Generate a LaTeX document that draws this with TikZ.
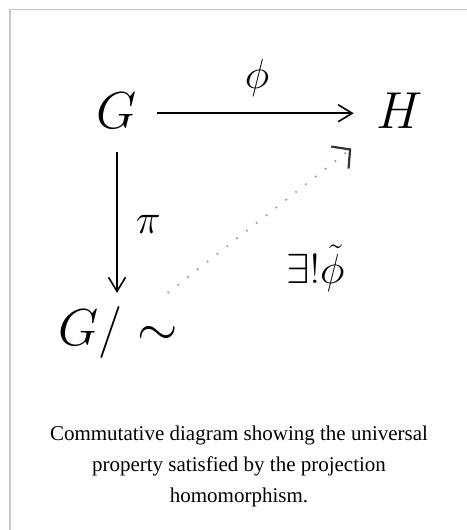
\RequirePackage{fix-cm}
\documentclass[tikz,border=0pt]{standalone}
\usepackage{amsmath,amssymb}
\usepackage{fontspec}
\newfontfamily\capfont{Liberation Serif}
\usetikzlibrary{arrows.meta,positioning,calc}

\begin{document}
\begin{tikzpicture}[x=1pt, y=-1pt,
    obj/.style={inner sep=0pt, anchor=base, font=\fontsize{52}{60}\selectfont},
    lbl/.style={inner sep=0pt, text=black, font=\fontsize{42}{50}\selectfont},
    arr/.style={-{Straight Barb[length=14pt, width=17pt, line width=1.6pt]}, line width=1.6pt},
    dots/.style={line width=2.6pt, black!35, dash pattern=on 0pt off 12.5pt, line cap=round,
        -{Straight Barb[length=13pt, width=28pt, line width=2.2pt, color=black!80]}}
]
\useasboundingbox (0,0) rectangle (466,530);
% frame
\draw[black!22, line width=1.5pt] (10,540) -- (10,9.5) -- (480,9.5);

\node[obj] (G) at (117,128) {$G$};
\node[obj] (H) at (400,128) {$H$};
\node[obj] (quo) at (118,345) {$G/\sim$};

\draw[arr, shorten <=20pt, shorten >=23pt] ([yshift=-3pt]G.east) -- node[lbl, above=16pt] (phi) {$\phi$} ([yshift=-3pt]H.west);
\draw[arr, shorten <=24pt, shorten >=13pt] (G.south) -- node[lbl, pos=0.54, right=18pt] (pi) {$\pi$} (G.south |- quo.north);
\draw[dots, shorten <=64pt, shorten >=62pt] (quo.center) -- node[lbl, pos=0.553, below right=34pt and 11pt] (ex) {$\exists!\tilde{\phi}$} (H.center);

\node[inner sep=0pt, anchor=north, align=center, font=\capfont\fontsize{21}{31}\selectfont] (cap) at (239,425.5)
    {Commutative diagram showing the universal\\property satisfied by the projection\\homomorphism.};
\end{tikzpicture}
\end{document}
